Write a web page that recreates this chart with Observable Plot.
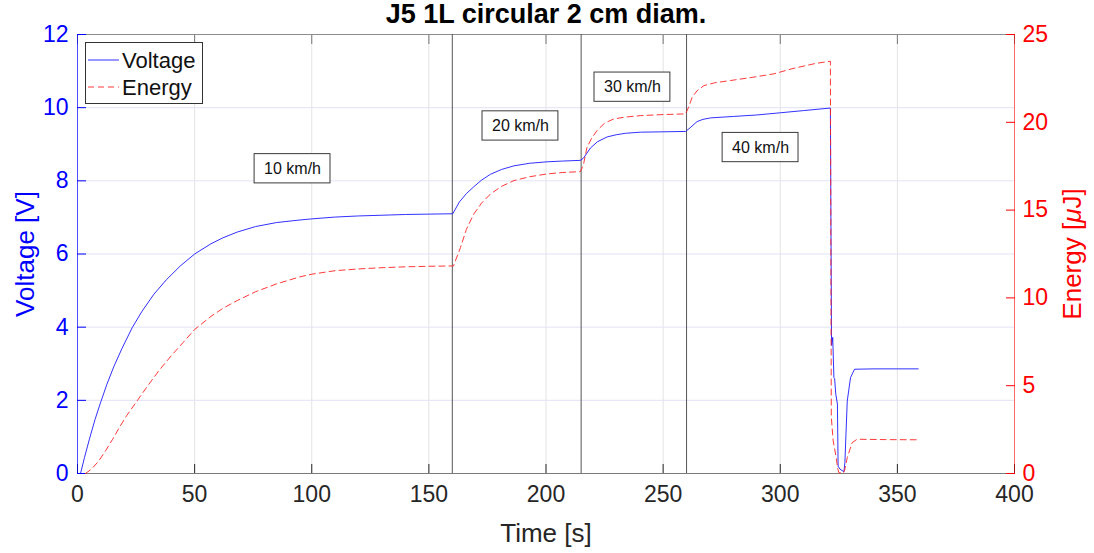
<!DOCTYPE html>
<html><head><meta charset="utf-8">
<script src="https://cdn.jsdelivr.net/npm/d3@7"></script>
<script src="https://cdn.jsdelivr.net/npm/@observablehq/plot@0.6"></script>
<style>
body{margin:0;background:#fff;}
#wrap{position:relative;width:1094px;height:553px;font-family:"Liberation Sans",Arial,sans-serif;}
#wrap svg{position:absolute;left:0;top:0;}
</style></head><body><div id="wrap"></div>
<script>
const title = "J5 1L circular 2 cm diam.";
const xLabel = "Time [s]";
const vLabel = "Voltage [V]";
const eLabel = "Energy [μJ]";
const seriesNames = ["Voltage", "Energy"];

const timeV = [1.3,3,5,7.5,9.8,12.5,15.5,19,23.3,27.5,32.6,38,44,50,57,62,68.2,76,85,95,100,110,120,130,140,150,160.2,
  163,166,169.2,172.5,176.3,181,186.3,193,200.5,207,214.7,216,219,222,226.1,230,234,240.3,250,259.6,
  261.5,264.5,267,270.2,280,290,300,310,321.4,321.9,322.4,322.9,323.2,323.7,324.4,324.7,325.5,326.4,327.2,327.6,328.6,330.0,331.7,340,350,358.9];
const voltage = [0,0.44,0.92,1.48,1.93,2.43,2.92,3.42,3.98,4.43,4.9,5.3,5.68,6.0,6.28,6.44,6.6,6.75,6.86,6.93,6.96,7.01,7.04,7.06,7.08,7.09,7.1,
  7.42,7.65,7.84,8.02,8.18,8.31,8.41,8.48,8.52,8.54,8.56,8.62,8.9,9.07,9.2,9.26,9.3,9.33,9.34,9.35,
  9.45,9.62,9.68,9.72,9.76,9.8,9.86,9.92,9.99,3.5,3.72,2.62,2.6,2.17,1.9,0.2,0.12,0.08,0.05,0.3,1.98,2.62,2.85,2.86,2.86,2.86];

const timeE = [3.4,6,9,12,15,18,21,25,30,35,40,45,50,57,62,68.2,76,85,95,100,110,120,130,140,150,160.5,
  163.5,166,169.2,172.5,176.3,181,186.3,193,200.5,207,214.7,216,217.5,219.5,221.8,225,228.9,234,240.3,250,259.6,
  261,262.4,264.5,267.4,272,278.8,290,297.3,305,315,321.4,321.8,322.6,323.9,324.5,325.0,326.9,327.5,328.6,330.7,332.8,345,358.9];
const energy = [0,0.25,0.7,1.3,1.95,2.65,3.3,4.05,5.0,5.9,6.7,7.45,8.2,8.95,9.4,9.85,10.35,10.8,11.2,11.35,11.55,11.65,11.72,11.77,11.8,11.82,
  12.87,13.9,14.78,15.4,15.92,16.35,16.68,16.9,17.06,17.14,17.19,17.6,18.57,19.1,19.53,19.95,20.19,20.3,20.38,20.44,20.48,
  20.9,21.43,21.8,22.09,22.25,22.38,22.6,22.76,23.05,23.35,23.48,3.2,1.85,0.9,0.3,0.05,0,0.2,0.9,1.76,1.95,1.93,1.92];

const xTicks = [0,50,100,150,200,250,300,350,400];
const vTicks = [0,2,4,6,8,10,12];
const eTicks = [0,5,10,15,20,25];
const markers = [160,215,260];
const speedLabels = ["10 km/h","20 km/h","30 km/h","40 km/h"];
const labelT = [91.8,189.1,236.9,291.6];
const labelV = [8.33,9.50,10.56,8.91];

const vData = timeV.map((t,i)=>({t, v: voltage[i]}));
const eData = timeE.map((t,i)=>({t, e: energy[i]}));
const notes = speedLabels.map((s,i)=>({s, t: labelT[i], v: labelV[i]}));

const common = {
  width: 1094, height: 553,
  marginLeft: 77, marginRight: 80, marginTop: 34, marginBottom: 80,
  style: {fontFamily: "Liberation Sans, Arial, sans-serif", background: "transparent", overflow: "visible"}
};
const FONT = 23;

const pV = Plot.plot({
  ...common,
  x: {domain: [0, 400]},
  y: {domain: [0, 12]},
  marks: [
    Plot.gridX({ticks: xTicks.slice(1, -1), stroke: "#e3e3e3", strokeOpacity: 1}),
    Plot.gridY({ticks: vTicks.slice(1, -1), stroke: "#e2e2f7", strokeOpacity: 1}),
    Plot.ruleY([12], {stroke: "#8c8c8c", strokeWidth: 1}),
    Plot.ruleY([0], {stroke: "#7a7a7a", strokeWidth: 1}),
    Plot.ruleX(markers, {stroke: "#555", strokeWidth: 1}),
    Plot.line(vData, {x: "t", y: "v", stroke: "#1a1aff", strokeWidth: 0.9}),
    Plot.rect(notes, {x1: d => d.t - 16.2, x2: d => d.t + 16.2, y1: d => d.v - 0.4, y2: d => d.v + 0.4,
      fill: "white", stroke: "#3a3a3a", strokeWidth: 1}),
    Plot.text(notes, {x: "t", y: "v", text: "s", fontSize: 16, fill: "#111"}),
    Plot.axisX({ticks: xTicks, anchor: "bottom", tickSize: -9, tickPadding: 21, fontSize: FONT, color: "#262626", label: null}),
    Plot.axisX({ticks: xTicks, anchor: "top", tickSize: -9, tickFormat: () => "", color: "#777", label: null}),
    Plot.axisY({ticks: vTicks, anchor: "left", tickSize: -9, tickPadding: 18, fontSize: FONT, color: "#0000ff", label: null}),
    Plot.ruleX([0], {stroke: "#0000ff", strokeOpacity: 0.7}),
    Plot.text([xLabel], {frameAnchor: "bottom", lineAnchor: "middle", dy: 60, fontSize: 26, fill: "#262626"}),
    Plot.text([vLabel], {frameAnchor: "left", textAnchor: "middle", lineAnchor: "middle", dx: -52, rotate: -90, fontSize: 26, fill: "#0000ff"}),
    Plot.text([title], {frameAnchor: "top", lineAnchor: "middle", dy: -20, fontSize: 27, fontWeight: "bold", fill: "#000"})
  ]
});

const pE = Plot.plot({
  ...common,
  x: {domain: [0, 400], axis: null},
  y: {domain: [0, 25]},
  marks: [
    Plot.ruleX([400], {stroke: "#ff0000", strokeOpacity: 0.6}),
    Plot.line(eData, {x: "t", y: "e", stroke: "#ff2222", strokeWidth: 0.9, strokeDasharray: "6,4"}),
    Plot.axisY({ticks: eTicks, anchor: "right", tickSize: -9, tickPadding: 17, fontSize: FONT, color: "#ff0000", label: null}),
    Plot.text([eLabel], {frameAnchor: "right", textAnchor: "middle", lineAnchor: "middle", dx: 58, rotate: -90, fontSize: 26, fill: "#ff0000"})
  ]
});

const wrap = document.getElementById("wrap");
wrap.appendChild(pV);
wrap.appendChild(pE);
pE.style.pointerEvents = "none";

// italic mu like the TeX label
d3.select(pE).selectAll("text").filter(function(){ return this.textContent === eLabel; })
  .each(function(){
    const t = d3.select(this);
    t.text(null);
    t.append("tspan").text("Energy [");
    t.append("tspan").attr("font-style", "italic").text("μ");
    t.append("tspan").text("J]");
  });

// legend
const lg = d3.select(wrap).append("svg").attr("width", 1094).attr("height", 553)
  .style("pointer-events", "none").style("font-family", "Liberation Sans, Arial, sans-serif");
lg.append("rect").attr("x", 85.5).attr("y", 42.5).attr("width", 117).attr("height", 61)
  .attr("fill", "white").attr("stroke", "#333").attr("stroke-width", 1);
const rows = [{name: seriesNames[0], color: "#1a1aff", dash: null, y: 60},
              {name: seriesNames[1], color: "#ff2222", dash: "6,4", y: 87}];
rows.forEach(r => {
  lg.append("line").attr("x1", 88).attr("x2", 119).attr("y1", r.y).attr("y2", r.y)
    .attr("stroke", r.color).attr("stroke-width", 0.9).attr("stroke-dasharray", r.dash);
  lg.append("text").attr("x", 122).attr("y", r.y).attr("dy", "0.35em")
    .attr("font-size", 22).attr("fill", "#111").text(r.name);
});
</script></body></html>
